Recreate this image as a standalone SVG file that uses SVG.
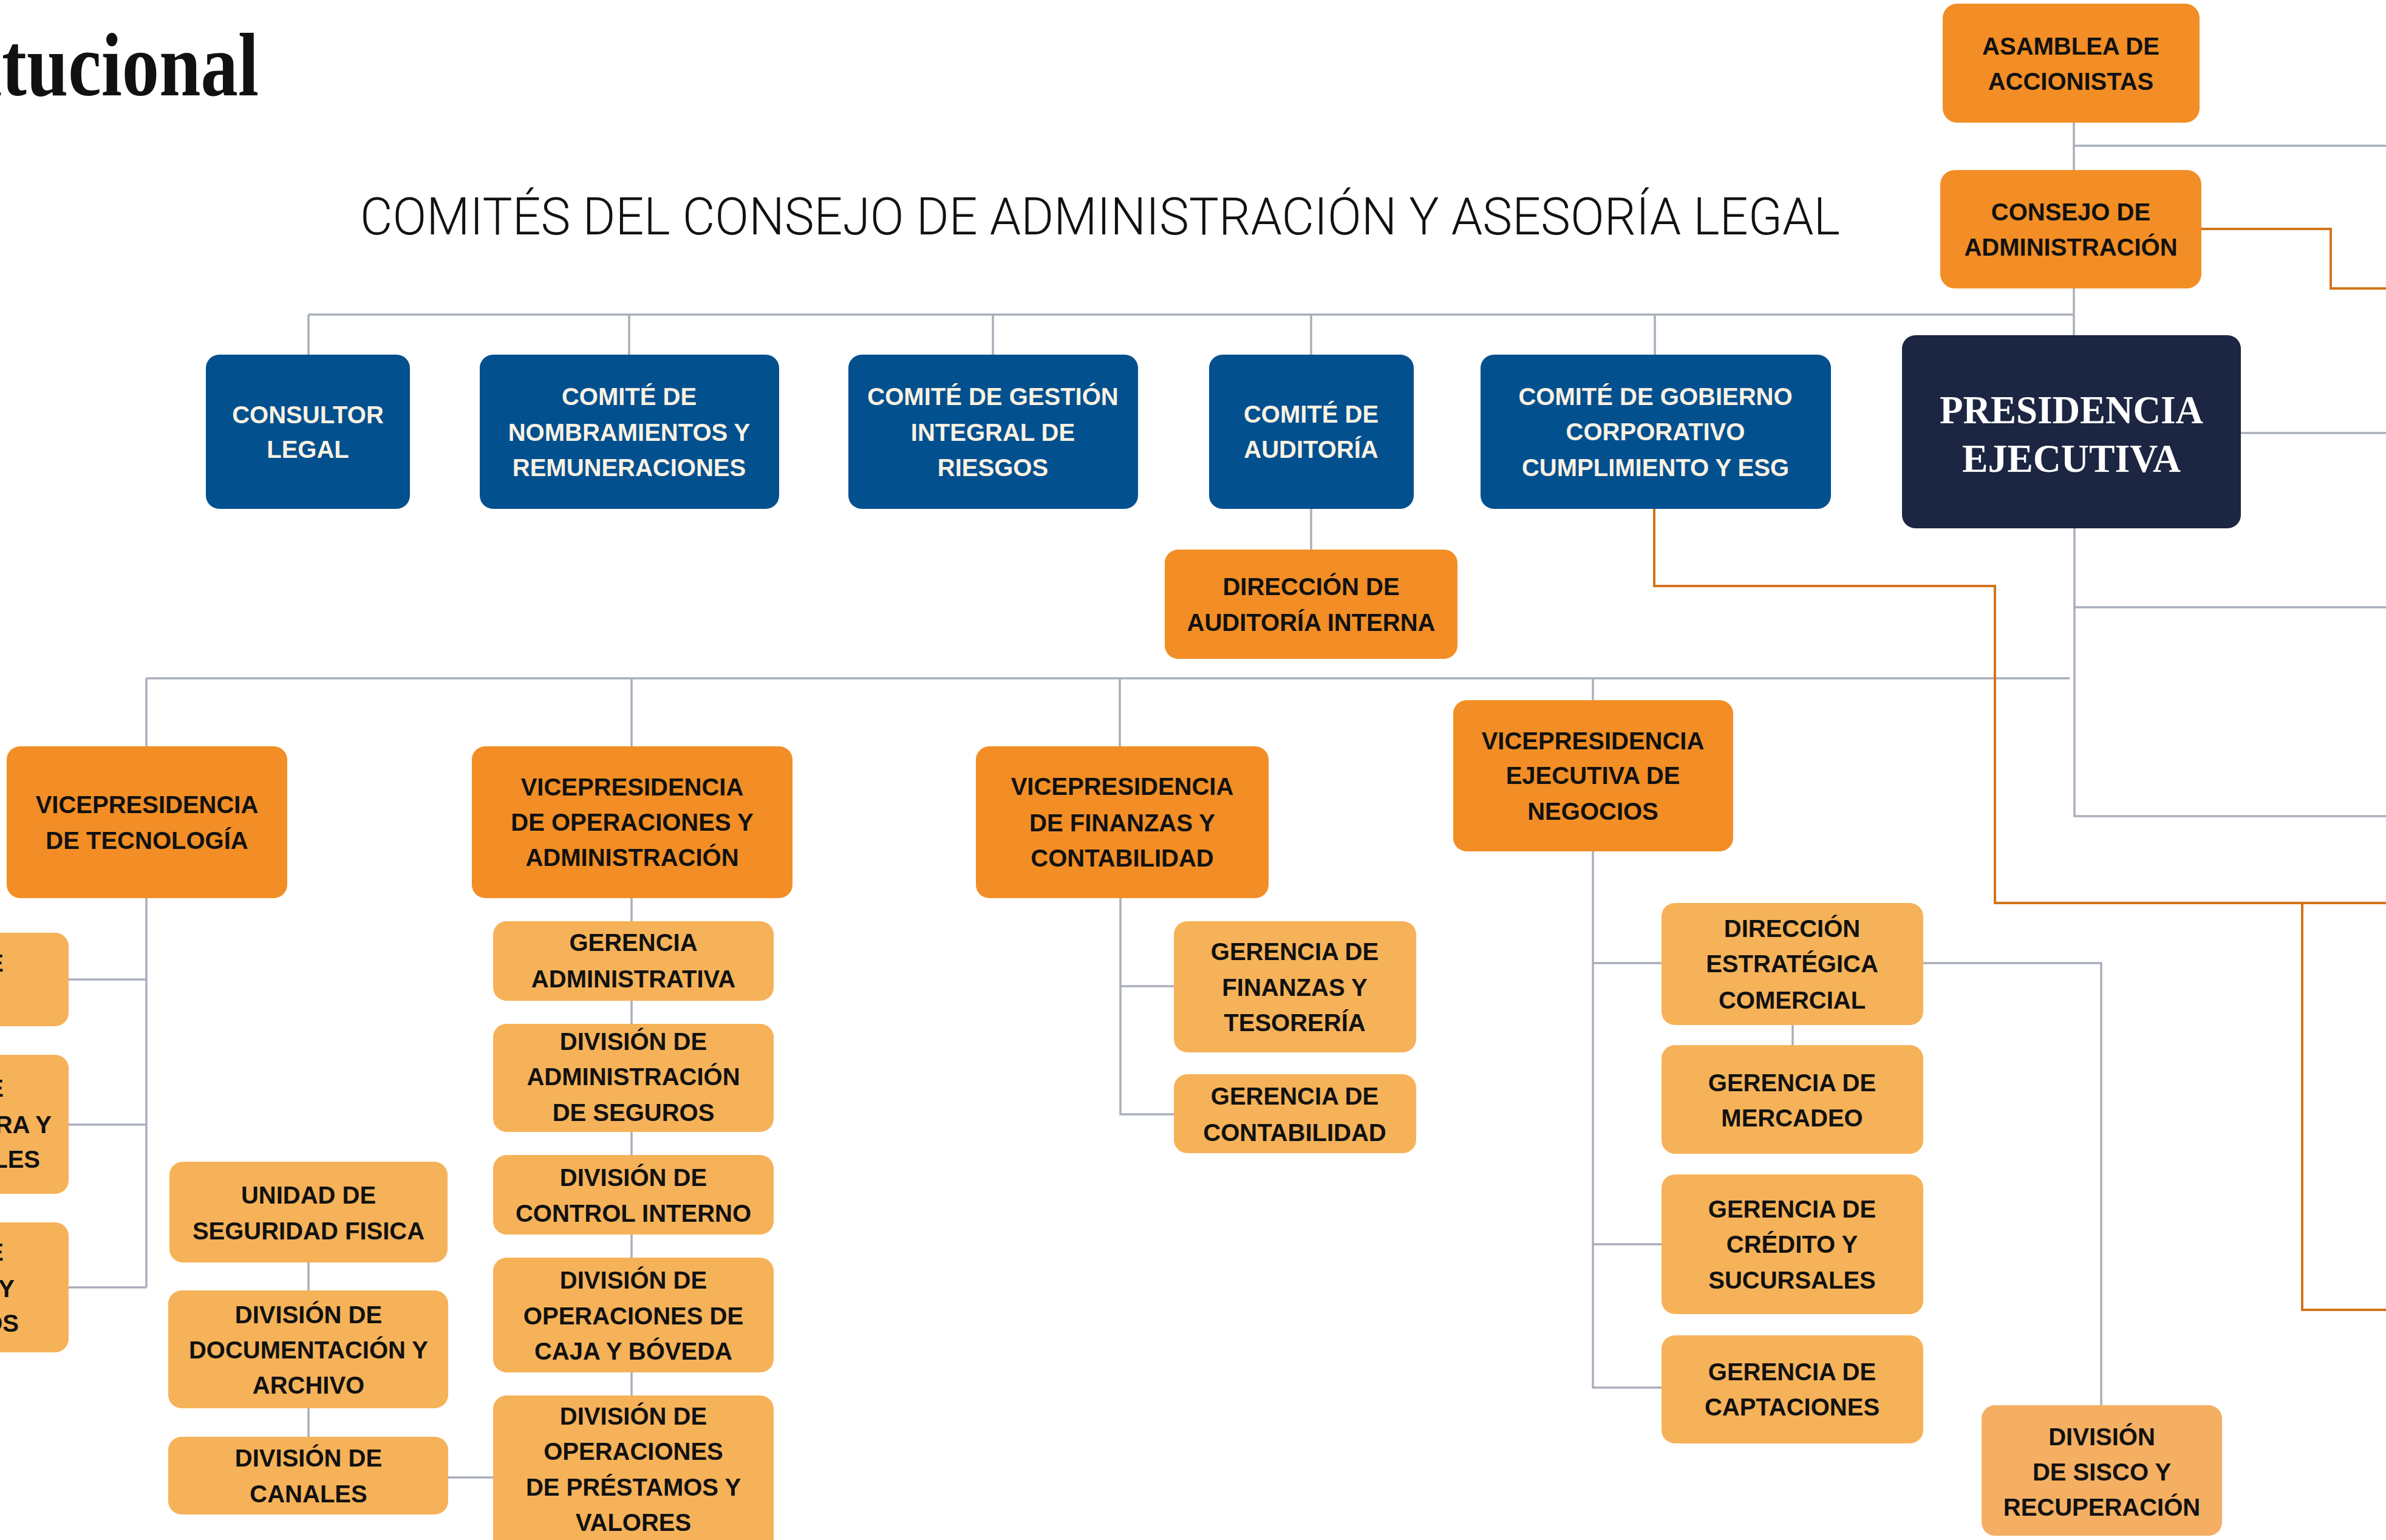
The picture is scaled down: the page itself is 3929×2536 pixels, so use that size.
<svg xmlns="http://www.w3.org/2000/svg" width="3929" height="2536" viewBox="0 0 3929 2536">
<style>
.dk{fill:#F28E25}
.lt{fill:#F6B259}
.ls{fill:#F4AF63}
.bl{fill:#03508F}
.nv{fill:#1C2642}
.t{font-family:"Liberation Sans",Arial,sans-serif;font-weight:700;font-size:40px;fill:#111111;text-anchor:middle}
.tw{font-family:"Liberation Sans",Arial,sans-serif;font-weight:700;font-size:40px;fill:#FBF2E2;text-anchor:middle}
.te{font-family:"Liberation Sans",Arial,sans-serif;font-weight:700;font-size:40px;fill:#111111;text-anchor:end}
.g{fill:none;stroke:#A9AEBA;stroke-width:3.5}
.o{fill:none;stroke:#D2741C;stroke-width:4}
</style>
<rect width="3929" height="2536" fill="#FFFFFF"/>

<text x="-31" y="157" font-family="'Liberation Serif','Times New Roman',serif" font-weight="700" font-size="148" fill="#111111" textLength="457" lengthAdjust="spacingAndGlyphs">itucional</text>
<text x="593" y="386" font-family="Roboto,'Liberation Sans',sans-serif" font-weight="300" font-size="86" fill="#111111" textLength="2437" lengthAdjust="spacingAndGlyphs">COMITÉS DEL CONSEJO DE ADMINISTRACIÓN Y ASESORÍA LEGAL</text>

<g id="connectors">
  <path class="g" d="M3415 202V552M3415 240H3929M508 518H3415M508 518V584M1036 518V584M1635 518V584M2159 518V584M2725 518V584M2159 838V905"/>
  <path class="g" d="M3690 713H3929M3416 870V1344H3929M3416 1000H3929"/>
  <path class="g" d="M241 1117H3408M241 1117V1229M1040 1117V1229M1844 1117V1229M2623 1117V1153"/>
  <path class="g" d="M241 1479V2120M113 1613H241M113 1852H241M113 2120H241"/>
  <path class="g" d="M1040 1479V2298M508 2079V2366M738 2433H812"/>
  <path class="g" d="M1845 1479V1835H1933M1845 1624H1933"/>
  <path class="g" d="M2623 1402V2285H2736M2623 1586H2736M2623 2049H2736M2952 1688V1721M3167 1586H3460V2314"/>
  <path class="o" d="M3625 377H3838V475H3929"/>
  <path class="o" d="M2724 838V965H3285V1487H3929M3791 1487V2157H3929"/>
</g>

<g id="asamblea"><rect class="dk" x="3199" y="6" width="423" height="196" rx="24"/>
<text class="t"><tspan x="3410" y="90">ASAMBLEA DE</tspan><tspan x="3410" y="148">ACCIONISTAS</tspan></text></g>

<g id="consejo"><rect class="dk" x="3195" y="280" width="430" height="195" rx="24"/>
<text class="t"><tspan x="3410" y="363">CONSEJO DE</tspan><tspan x="3410" y="421">ADMINISTRACIÓN</tspan></text></g>

<g id="presidencia"><rect class="nv" x="3132" y="552" width="558" height="318" rx="22"/>
<text font-family="'Liberation Serif','Times New Roman',serif" font-weight="700" font-size="66" fill="#FFFFFF"><tspan x="3194" y="697" textLength="434" lengthAdjust="spacingAndGlyphs">PRESIDENCIA</tspan><tspan x="3231" y="777" textLength="360" lengthAdjust="spacingAndGlyphs">EJECUTIVA</tspan></text></g>

<g id="consultor"><rect class="bl" x="339" y="584" width="336" height="254" rx="22"/>
<text class="tw"><tspan x="507" y="697">CONSULTOR</tspan><tspan x="507" y="754">LEGAL</tspan></text></g>

<g id="nombramientos"><rect class="bl" x="790" y="584" width="493" height="254" rx="22"/>
<text class="tw"><tspan x="1036" y="667">COMITÉ DE</tspan><tspan x="1036" y="726">NOMBRAMIENTOS Y</tspan><tspan x="1036" y="784">REMUNERACIONES</tspan></text></g>

<g id="riesgos"><rect class="bl" x="1397" y="584" width="477" height="254" rx="22"/>
<text class="tw"><tspan x="1635" y="667">COMITÉ DE GESTIÓN</tspan><tspan x="1635" y="726">INTEGRAL DE</tspan><tspan x="1635" y="784">RIESGOS</tspan></text></g>

<g id="auditoria"><rect class="bl" x="1991" y="584" width="337" height="254" rx="22"/>
<text class="tw"><tspan x="2159" y="696">COMITÉ DE</tspan><tspan x="2159" y="754">AUDITORÍA</tspan></text></g>

<g id="gobierno"><rect class="bl" x="2438" y="584" width="577" height="254" rx="22"/>
<text class="tw"><tspan x="2726" y="667">COMITÉ DE GOBIERNO</tspan><tspan x="2726" y="725">CORPORATIVO</tspan><tspan x="2726" y="784">CUMPLIMIENTO Y ESG</tspan></text></g>

<g id="dir-auditoria"><rect class="dk" x="1918" y="905" width="482" height="180" rx="22"/>
<text class="t"><tspan x="2159" y="980">DIRECCIÓN DE</tspan><tspan x="2159" y="1039">AUDITORÍA INTERNA</tspan></text></g>

<g id="vp-tecnologia"><rect class="dk" x="11" y="1229" width="462" height="250" rx="22"/>
<text class="t"><tspan x="242" y="1339">VICEPRESIDENCIA</tspan><tspan x="242" y="1398">DE TECNOLOGÍA</tspan></text></g>

<g id="vp-operaciones"><rect class="dk" x="777" y="1229" width="528" height="250" rx="22"/>
<text class="t"><tspan x="1041" y="1310">VICEPRESIDENCIA</tspan><tspan x="1041" y="1368">DE OPERACIONES Y</tspan><tspan x="1041" y="1426">ADMINISTRACIÓN</tspan></text></g>

<g id="vp-finanzas"><rect class="dk" x="1607" y="1229" width="482" height="250" rx="22"/>
<text class="t"><tspan x="1848" y="1309">VICEPRESIDENCIA</tspan><tspan x="1848" y="1369">DE FINANZAS Y</tspan><tspan x="1848" y="1427">CONTABILIDAD</tspan></text></g>

<g id="vp-negocios"><rect class="dk" x="2393" y="1153" width="461" height="249" rx="22"/>
<text class="t"><tspan x="2623" y="1234">VICEPRESIDENCIA</tspan><tspan x="2623" y="1291">EJECUTIVA DE</tspan><tspan x="2623" y="1350">NEGOCIOS</tspan></text></g>

<g id="left-1"><rect class="lt" x="-40" y="1536" width="153" height="154" rx="22"/>
<text class="te"><tspan x="6" y="1600">E</tspan></text></g>
<g id="left-2"><rect class="lt" x="-40" y="1737" width="153" height="229" rx="22"/>
<text class="te"><tspan x="6" y="1806">E</tspan><tspan x="85" y="1866">RA Y</tspan><tspan x="66" y="1923">LES</tspan></text></g>
<g id="left-3"><rect class="lt" x="-40" y="2013" width="153" height="214" rx="22"/>
<text class="te"><tspan x="6" y="2076">E</tspan><tspan x="24" y="2136">Y</tspan><tspan x="31" y="2193">OS</tspan></text></g>

<g id="ger-administrativa"><rect class="lt" x="812" y="1517" width="462" height="131" rx="22"/>
<text class="t"><tspan x="1043" y="1566">GERENCIA</tspan><tspan x="1043" y="1626">ADMINISTRATIVA</tspan></text></g>

<g id="div-seguros"><rect class="lt" x="812" y="1686" width="462" height="178" rx="22"/>
<text class="t"><tspan x="1043" y="1729">DIVISIÓN DE</tspan><tspan x="1043" y="1787">ADMINISTRACIÓN</tspan><tspan x="1043" y="1846">DE SEGUROS</tspan></text></g>

<g id="div-control"><rect class="lt" x="812" y="1902" width="462" height="131" rx="22"/>
<text class="t"><tspan x="1043" y="1953">DIVISIÓN DE</tspan><tspan x="1043" y="2012">CONTROL INTERNO</tspan></text></g>

<g id="div-caja"><rect class="lt" x="812" y="2071" width="462" height="189" rx="22"/>
<text class="t"><tspan x="1043" y="2122">DIVISIÓN DE</tspan><tspan x="1043" y="2181">OPERACIONES DE</tspan><tspan x="1043" y="2239">CAJA Y BÓVEDA</tspan></text></g>

<g id="div-prestamos"><rect class="lt" x="812" y="2298" width="462" height="270" rx="22"/>
<text class="t"><tspan x="1043" y="2346">DIVISIÓN DE</tspan><tspan x="1043" y="2404">OPERACIONES</tspan><tspan x="1043" y="2463">DE PRÉSTAMOS Y</tspan><tspan x="1043" y="2521">VALORES</tspan></text></g>

<g id="unidad-seguridad"><rect class="lt" x="279" y="1913" width="458" height="166" rx="22"/>
<text class="t"><tspan x="508" y="1982">UNIDAD DE</tspan><tspan x="508" y="2041">SEGURIDAD FISICA</tspan></text></g>

<g id="div-documentacion"><rect class="lt" x="277" y="2125" width="461" height="194" rx="22"/>
<text class="t"><tspan x="508" y="2179">DIVISIÓN DE</tspan><tspan x="508" y="2237">DOCUMENTACIÓN Y</tspan><tspan x="508" y="2295">ARCHIVO</tspan></text></g>

<g id="div-canales"><rect class="lt" x="277" y="2366" width="461" height="128" rx="22"/>
<text class="t"><tspan x="508" y="2415">DIVISIÓN DE</tspan><tspan x="508" y="2474">CANALES</tspan></text></g>

<g id="ger-finanzas"><rect class="lt" x="1933" y="1517" width="399" height="216" rx="22"/>
<text class="t"><tspan x="2132" y="1581">GERENCIA DE</tspan><tspan x="2132" y="1640">FINANZAS Y</tspan><tspan x="2132" y="1698">TESORERÍA</tspan></text></g>

<g id="ger-contabilidad"><rect class="lt" x="1933" y="1769" width="399" height="130" rx="22"/>
<text class="t"><tspan x="2132" y="1819">GERENCIA DE</tspan><tspan x="2132" y="1879">CONTABILIDAD</tspan></text></g>

<g id="dir-estrategica"><rect class="lt" x="2736" y="1487" width="431" height="201" rx="22"/>
<text class="t"><tspan x="2951" y="1543">DIRECCIÓN</tspan><tspan x="2951" y="1601">ESTRATÉGICA</tspan><tspan x="2951" y="1661">COMERCIAL</tspan></text></g>

<g id="ger-mercadeo"><rect class="lt" x="2736" y="1721" width="431" height="179" rx="22"/>
<text class="t"><tspan x="2951" y="1797">GERENCIA DE</tspan><tspan x="2951" y="1855">MERCADEO</tspan></text></g>

<g id="ger-credito"><rect class="lt" x="2736" y="1934" width="431" height="230" rx="22"/>
<text class="t"><tspan x="2951" y="2005">GERENCIA DE</tspan><tspan x="2951" y="2063">CRÉDITO Y</tspan><tspan x="2951" y="2122">SUCURSALES</tspan></text></g>

<g id="ger-captaciones"><rect class="lt" x="2736" y="2199" width="431" height="178" rx="22"/>
<text class="t"><tspan x="2951" y="2273">GERENCIA DE</tspan><tspan x="2951" y="2331">CAPTACIONES</tspan></text></g>

<g id="div-sisco"><rect class="ls" x="3263" y="2314" width="396" height="215" rx="22"/>
<text class="t"><tspan x="3461" y="2380">DIVISIÓN</tspan><tspan x="3461" y="2438">DE SISCO Y</tspan><tspan x="3461" y="2496">RECUPERACIÓN</tspan></text></g>
</svg>
